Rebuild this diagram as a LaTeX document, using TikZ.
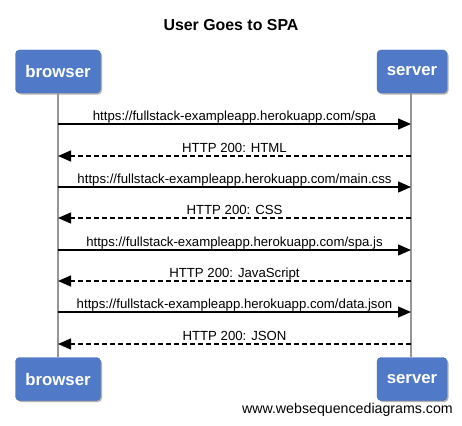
\documentclass[tikz,border=0pt]{standalone}
\usepackage{fontspec}
\setmainfont{Liberation Sans}
\usetikzlibrary{arrows.meta,shadows}
\definecolor{boxblue}{RGB}{80,122,199}
\definecolor{lifegray}{RGB}{150,150,150}
\begin{document}
\begin{tikzpicture}[x=1pt,y=-1pt,
 actor/.style={rectangle, rounded corners=4pt, fill=boxblue, draw=boxblue!85!black, line width=0.4pt,
   text=white, font=\fontsize{16.8}{18}\selectfont\bfseries, minimum height=43pt, inner sep=0pt,
   drop shadow={shadow xshift=1.5pt, shadow yshift=-1.5pt, fill=black, opacity=0.3}},
 life/.style={draw=lifegray, line width=1.6pt},
 msg/.style={line width=1.3pt, -{Triangle[length=13pt,width=11pt]}},
 ret/.style={msg, dash pattern=on 5pt off 3pt},
 lbl/.style={font=\fontsize{13.2}{15}\selectfont, inner sep=0pt, anchor=base, midway, yshift=4pt}]
\useasboundingbox (0,0) rectangle (462,425);
\node[anchor=base, inner sep=0pt, font=\fontsize{15.9}{18}\selectfont\bfseries] (title) at (231,31) {User Goes to SPA};
\node[actor, minimum width=85pt] (b1) at (58,71.5) {browser};
\node[actor, minimum width=70pt] (s1) at (412,71.5) {server};
\node[actor, minimum width=85pt] (b2) at (58,379) {browser};
\node[actor, minimum width=70pt] (s2) at (412,379) {server};
\draw[life] (b1.south) -- (b2.north);
\draw[life] ([xshift=-1pt]s1.south) -- ([xshift=-1pt]s2.north);
\foreach \i/\y in {1/124,2/156,3/187,4/218,5/250,6/281,7/312,8/344}{
  \coordinate (b-\i) at (58,\y);
  \coordinate (s-\i) at (411,\y);
}
\draw[msg] (b-1) -- (s-1) node[lbl] {https://fullstack-exampleapp.herokuapp.com/spa};
\draw[ret] (s-2) -- (b-2) node[lbl] {HTTP 200: HTML};
\draw[msg] (b-3) -- (s-3) node[lbl] {https://fullstack-exampleapp.herokuapp.com/main.css};
\draw[ret] (s-4) -- (b-4) node[lbl] {HTTP 200: CSS};
\draw[msg] (b-5) -- (s-5) node[lbl] {https://fullstack-exampleapp.herokuapp.com/spa.js};
\draw[ret] (s-6) -- (b-6) node[lbl] {HTTP 200: JavaScript};
\draw[msg] (b-7) -- (s-7) node[lbl] {https://fullstack-exampleapp.herokuapp.com/data.json};
\draw[ret] (s-8) -- (b-8) node[lbl] {HTTP 200: JSON};
\node[anchor=base east, inner sep=0pt, font=\fontsize{14.2}{16}\selectfont] (wsd) at (453,413) {www.websequencediagrams.com};
\end{tikzpicture}
\end{document}
